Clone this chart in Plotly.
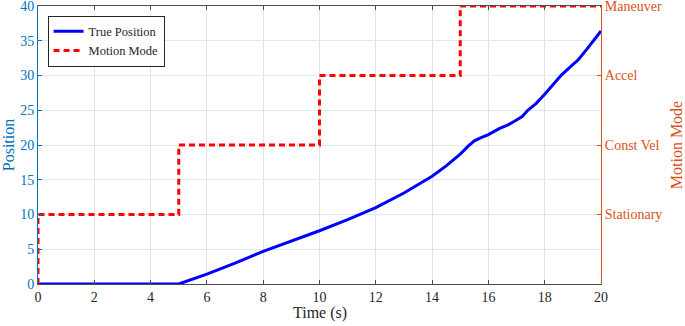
import plotly.graph_objects as go

# True position samples (time in s, position)
pos_time = [0, 1, 2, 3, 4, 5, 6, 7, 8, 9, 10, 11, 12, 13, 14, 14.5, 15, 15.3, 15.5,
            15.7, 16, 16.4, 16.7, 17.0, 17.2, 17.4, 17.7, 18, 18.3, 18.6, 18.9,
            19.2, 19.5, 19.8, 20]
pos_vals = [0, 0, 0, 0, 0, 0, 1.42, 3.0, 4.7, 6.15, 7.66, 9.25, 11.0, 13.1, 15.5,
            17.0, 18.7, 19.9, 20.6, 21.0, 21.5, 22.4, 22.9, 23.6, 24.1, 25.0, 26.0,
            27.3, 28.7, 30.1, 31.2, 32.3, 33.8, 35.3, 36.4]

# Motion mode (step) samples
mode_time = [0, 0, 5, 10, 15, 20]
mode_vals = [0, 1, 2, 3, 4, 4]
mode_ticks = [1, 2, 3, 4]
mode_labels = ["Stationary", "Const Vel", "Accel", "Maneuver"]

x_ticks = [0, 2, 4, 6, 8, 10, 12, 14, 16, 18, 20]
y_ticks = [0, 5, 10, 15, 20, 25, 30, 35, 40]

BLUE_AX = "#0072BD"
ORANGE = "#D95319"
FONT = "Liberation Serif"

fig = go.Figure()
fig.add_trace(go.Scatter(x=pos_time, y=pos_vals, mode="lines", name="True Position",
                         line=dict(color="#0000FF", width=3)))
fig.add_trace(go.Scatter(x=mode_time, y=mode_vals, mode="lines", name="Motion Mode",
                         line=dict(color="#FF0000", width=3, dash="6px,4px", shape="hv"),
                         yaxis="y2"))

top, bot = 6, 42
plot_h = 326 - top - bot

fig.update_layout(
    width=685, height=326, template="none",
    margin=dict(l=38, r=84, t=top, b=bot, autoexpand=False),
    paper_bgcolor="white", plot_bgcolor="white",
    font=dict(family=FONT, size=14, color="#262626"),
    showlegend=True,
    legend=dict(x=0.017, y=0.965, xanchor="left", yanchor="top",
                bgcolor="white", bordercolor="#262626", borderwidth=1,
                font=dict(family=FONT, size=12.5, color="#262626"),
                tracegroupgap=0, itemwidth=30),
    xaxis=dict(range=[0, 20], tickvals=x_ticks, ticks="inside", ticklen=4,
               tickcolor="#4d4d4d", showline=True, linecolor="#4d4d4d", linewidth=1,
               mirror="ticks", showgrid=True, gridcolor="#e3e3e3", zeroline=False,
               tickfont=dict(family=FONT, color="#262626", size=14), automargin=False,
               ticklabeloverflow="allow"),
    yaxis=dict(range=[0, 40], tickvals=y_ticks, ticks="inside", ticklen=4,
               tickcolor=BLUE_AX, showline=True, linecolor=BLUE_AX, linewidth=1,
               showgrid=True, gridcolor="#dceaf4", zeroline=False,
               tickfont=dict(family=FONT, color=BLUE_AX, size=14), automargin=False,
               ticklabeloverflow="allow",
               title=dict(text="Position", font=dict(family=FONT, size=16, color=BLUE_AX), standoff=3)),
    yaxis2=dict(range=[0, 4], overlaying="y", side="right", tickvals=mode_ticks,
                ticktext=mode_labels, ticks="inside", ticklen=4, tickcolor=ORANGE,
                showline=True, linecolor=ORANGE, linewidth=1, showgrid=False,
                zeroline=False, tickfont=dict(family=FONT, color=ORANGE, size=14), automargin=False,
                ticklabeloverflow="allow",
                title=dict(text="Motion Mode", font=dict(family=FONT, size=16, color=ORANGE), standoff=9)),
    annotations=[dict(text="Time (s)", xref="paper", yref="paper", x=0.5,
                      y=-(313 - (326 - bot)) / plot_h, xanchor="center", yanchor="middle",
                      showarrow=False, font=dict(family=FONT, size=16, color="#262626"))],
)

fig.write_html("out.html", config={"displayModeBar": False},
               post_script="document.body.style.margin='0';document.body.style.padding='0';")
